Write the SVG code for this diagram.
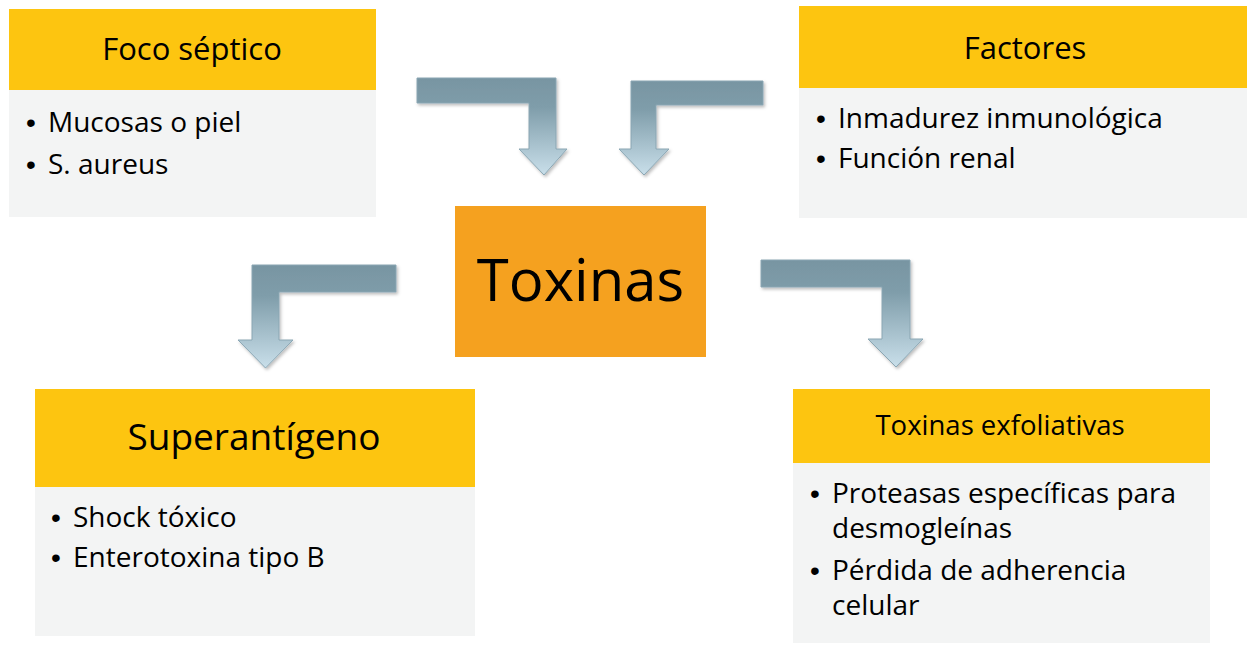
<svg xmlns="http://www.w3.org/2000/svg" width="1247" height="645" viewBox="0 0 1247 645">
<defs>
<linearGradient id="ag" x1="0" y1="0" x2="0" y2="1">
<stop offset="0" stop-color="#7895A2"/>
<stop offset="0.3" stop-color="#7F9DAA"/>
<stop offset="1" stop-color="#C9DFEA"/>
</linearGradient>
<filter id="sh" x="-10%" y="-10%" width="130%" height="130%">
<feDropShadow dx="1.5" dy="2" stdDeviation="1.5" flood-color="#000" flood-opacity="0.25"/>
</filter>
</defs>
<style>
.hd{fill:#FDC510}
.bd{fill:#F3F4F4}
.t{font-family:"Open Sans","Noto Sans",sans-serif;fill:#000}
.h{font-size:31px;text-anchor:middle}
.b{font-size:28px}
.u{font-family:"Liberation Sans",Arial,sans-serif;font-size:28px;text-anchor:middle}
.arr{fill:url(#ag);stroke:#8AA6B3;stroke-width:1;filter:url(#sh)}
</style>
<rect width="1247" height="645" fill="#fff"/>
<g id="connectors">
<path class="arr" d="M417,78 H556 V149 H567 L544,175 L519,149 H529 V103 H417 Z"/>
<path class="arr" d="M763,81 V105 H656 V149 H669 L644,175 L619,149 H631 V81 Z"/>
<path class="arr" d="M396,265 V292 H279 V340 H293 L265.5,368 L238,340 H252 V265 Z"/>
<path class="arr" d="M761,260 H910 V339 H923 L896,367 L868,339 H882 V287 H761 Z"/>
</g>
<g id="foco">
<rect class="hd" x="9" y="9" width="367" height="81"/>
<rect class="bd" x="9" y="90" width="367" height="127"/>
<text class="t h" x="192" y="60">Foco séptico</text>
<text class="t b"><tspan class="u" x="31" y="132">•</tspan><tspan x="48" y="132">Mucosas o piel</tspan></text>
<text class="t b"><tspan class="u" x="31" y="174">•</tspan><tspan x="48" y="174">S. aureus</tspan></text>
</g>
<g id="factores">
<rect class="hd" x="799" y="6" width="448" height="82"/>
<rect class="bd" x="799" y="88" width="448" height="130"/>
<text class="t h" x="1025" y="59">Factores</text>
<text class="t b"><tspan class="u" x="821" y="128">•</tspan><tspan x="838" y="128">Inmadurez inmunológica</tspan></text>
<text class="t b"><tspan class="u" x="821" y="168">•</tspan><tspan x="838" y="168">Función renal</tspan></text>
</g>
<g id="toxinas">
<rect x="455" y="206" width="251" height="151" fill="#F5A11F"/>
<text class="t" x="580.5" y="301" font-size="58" text-anchor="middle">Toxinas</text>
</g>
<g id="superantigeno">
<rect class="hd" x="35" y="389" width="440" height="98"/>
<rect class="bd" x="35" y="487" width="440" height="149"/>
<text class="t" x="254" y="450" font-size="37" text-anchor="middle">Superantígeno</text>
<text class="t b"><tspan class="u" x="56" y="527">•</tspan><tspan x="73" y="527">Shock tóxico</tspan></text>
<text class="t b"><tspan class="u" x="56" y="567">•</tspan><tspan x="73" y="567">Enterotoxina tipo B</tspan></text>
</g>
<g id="exfoliativas">
<rect class="hd" x="793" y="389" width="417" height="74"/>
<rect class="bd" x="793" y="463" width="417" height="180"/>
<text class="t" x="1000" y="435" font-size="27.5" text-anchor="middle">Toxinas exfoliativas</text>
<text class="t b"><tspan class="u" x="815" y="503">•</tspan><tspan x="832" y="503">Proteasas específicas para</tspan><tspan x="832" y="538">desmogleínas</tspan></text>
<text class="t b"><tspan class="u" x="815" y="580">•</tspan><tspan x="832" y="580">Pérdida de adherencia</tspan><tspan x="832" y="615">celular</tspan></text>
</g>
</svg>
